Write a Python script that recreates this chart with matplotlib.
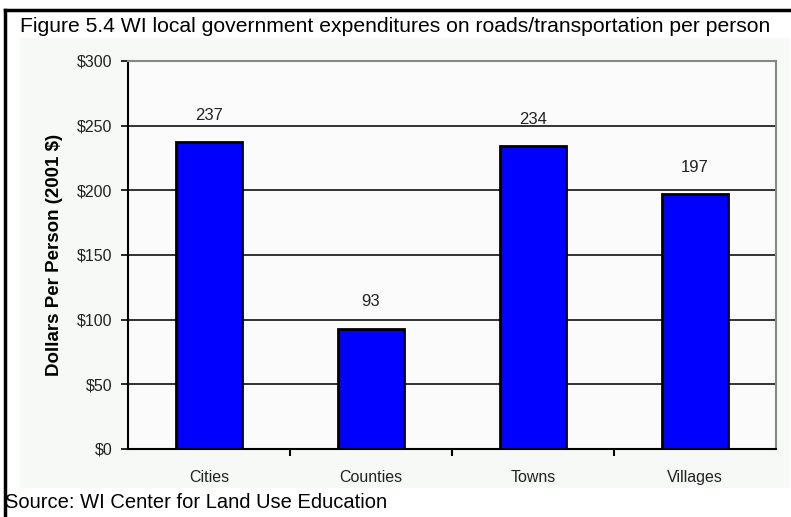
import matplotlib
matplotlib.use('agg')
import matplotlib.pyplot as plt
from matplotlib.lines import Line2D

plt.rcParams['font.family'] = ['Liberation Sans', 'DejaVu Sans']

# data
categories = ['Cities', 'Counties', 'Towns', 'Villages']
values = [237, 93, 234, 197]
yticks = [0, 50, 100, 150, 200, 250, 300]
ytick_labels = ['$0', '$50', '$100', '$150', '$200', '$250', '$300']

fig = plt.figure(figsize=(7.91, 5.17), dpi=100)
fig.patch.set_facecolor('white')

# light panel behind the chart
fig.patches.append(plt.Rectangle((20 / 791, 1 - 488 / 517), 770 / 791, 450 / 517,
                                 transform=fig.transFigure, facecolor='#f7f9f7',
                                 edgecolor='none', zorder=-5))

# frame lines (top and left only)
fig.add_artist(Line2D([5 / 791, 1], [1 - 10 / 517, 1 - 10 / 517], color='black', lw=2.5,
                      transform=fig.transFigure))
fig.add_artist(Line2D([5 / 791, 5 / 791], [0, 1 - 10 / 517], color='black', lw=2.5,
                      transform=fig.transFigure))

ax = fig.add_axes([128 / 791, 1 - 449 / 517, 648 / 791, 388 / 517])
ax.set_zorder(2)
ax.set_facecolor('#fbfbfb')

x = list(range(len(categories)))
bars = ax.bar(x, values, width=0.41, color='#0000ff', edgecolor='black', linewidth=2, zorder=3)

for xi, v in zip(x, values):
    ax.annotate(str(v), (xi, v), xytext=(0, 14), textcoords='offset points',
                ha='center', va='bottom', fontsize=12, color='#222222')

ax.set_xlim(-0.5, len(categories) - 0.5)
ax.set_ylim(0, 300)
ax.set_yticks(yticks)
ax.set_yticklabels(ytick_labels, fontsize=11.5, color='#222222')
ax.yaxis.grid(True, color='#222222', linewidth=1.3, zorder=1)
ax.set_axisbelow(True)

ax.set_xticks([i + 0.5 for i in x[:-1]])
ax.set_xticklabels([])
ax.set_xticks(x, minor=True)
ax.set_xticklabels(categories, minor=True, fontsize=11.5, color='#222222')
ax.tick_params(axis='x', which='minor', length=0, pad=15)
ax.tick_params(axis='x', which='major', length=5, width=1.5, direction='out')
ax.tick_params(axis='y', length=5, width=1.2, direction='out', pad=6)

ax.spines['left'].set_linewidth(1.5)
ax.spines['bottom'].set_linewidth(1.5)
ax.spines['top'].set_color('#888888')
ax.spines['right'].set_color('#888888')
ax.spines['top'].set_linewidth(1.5)
ax.spines['right'].set_linewidth(1.5)

ax.set_ylabel('Dollars Per Person (2001 $)', fontsize=13.5, fontweight='bold', labelpad=10)

fig.text(20 / 791, 1 - 27 / 517, 'Figure 5.4 WI local government expenditures on roads/transportation per person',
         fontsize=15.2, va='center', ha='left')
fig.text(5 / 791, 1 - 503 / 517, 'Source: WI Center for Land Use Education',
         fontsize=14.5, va='center', ha='left')

plt.savefig('out.png', dpi=100)
